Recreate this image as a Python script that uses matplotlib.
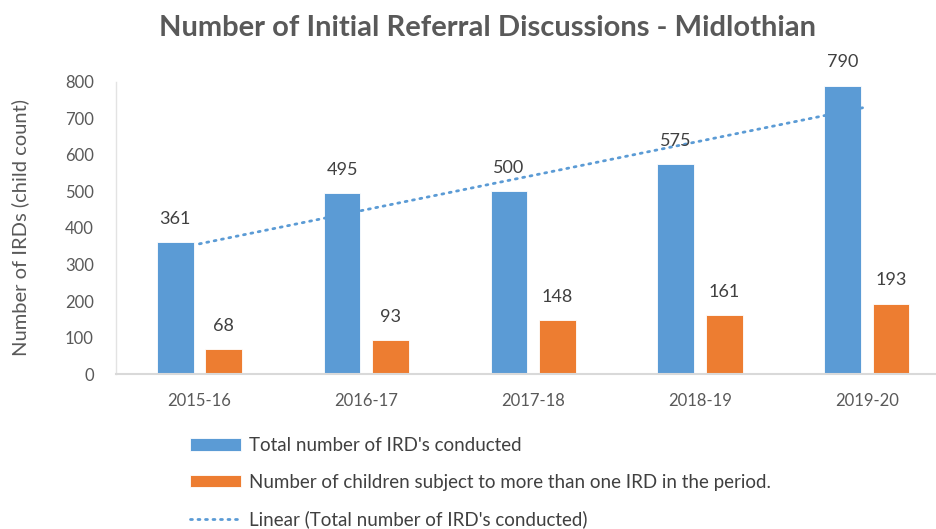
import matplotlib
matplotlib.use('Agg')
import matplotlib.pyplot as plt
import numpy as np

plt.rcParams['font.family'] = ['Lato', 'DejaVu Sans']

# data
years = ['2015-16', '2016-17', '2017-18', '2018-19', '2019-20']
total_irds = [361, 495, 500, 575, 790]
repeat_children = [68, 93, 148, 161, 193]

label_total = "Total number of IRD's conducted"
label_repeat = "Number of children subject to more than one IRD in the period."
label_trend = "Linear (Total number of IRD's conducted)"

blue = '#5B9BD5'
orange = '#ED7D31'
grey = '#595959'

fig = plt.figure(figsize=(9.37, 5.29), dpi=100)
ax = fig.add_axes([0.1238, 0.293, 0.8762, 0.552])

x = np.arange(len(years))
w = 0.22
off = 0.145
b1 = ax.bar(x - off, total_irds, w, color=blue, edgecolor='white', linewidth=0.6,
            label=label_total, zorder=2)
b2 = ax.bar(x + off, repeat_children, w, color=orange, edgecolor='white', linewidth=0.6,
            label=label_repeat, zorder=2)

# linear trendline fitted over the blue series
coef = np.polyfit(x, total_irds, 1)
trend_line, = ax.plot(x, np.polyval(coef, x), linestyle=(0, (0.7, 2.0)), color=blue,
                      linewidth=2.0, dash_capstyle='round', label=label_trend, zorder=3)

for bars, vals in ((b1, total_irds), (b2, repeat_children)):
    for rect, v in zip(bars, vals):
        ax.annotate(str(v), (rect.get_x() + rect.get_width() / 2, v),
                    xytext=(0, 11), textcoords='offset points',
                    ha='center', va='bottom', fontsize=13, color='#404040')

ax.set_xlim(-0.5, 4.42)
ax.set_ylim(0, 800)
ax.set_yticks(np.arange(0, 801, 100))
ax.set_xticks(x)
ax.set_xticklabels(years)
ax.tick_params(axis='both', length=0, labelsize=12, colors=grey)
ax.tick_params(axis='x', pad=14)
ax.tick_params(axis='y', pad=16)

for s in ('top', 'right'):
    ax.spines[s].set_visible(False)
ax.spines['left'].set_color('#e3e3e3')
ax.spines['left'].set_linewidth(1)
ax.spines['bottom'].set_color('#d9d9d9')
ax.spines['bottom'].set_linewidth(1.5)

ax.set_ylabel('Number of IRDs (child count)', fontsize=14.5, color=grey)
ax.yaxis.set_label_coords(-0.106, 0.5)

fig.text(0.52, 0.948, 'Number of Initial Referral Discussions - Midlothian',
         ha='center', va='center', fontsize=21, fontweight='bold', color=grey)

leg = fig.legend(handles=[b1, b2, trend_line], loc='upper left',
                 bbox_to_anchor=(0.195, 0.188), frameon=False, fontsize=13.5,
                 labelspacing=1.05, handlelength=2.7, handleheight=0.65,
                 handletextpad=0.45, borderaxespad=0)
for t in leg.get_texts():
    t.set_color('#404040')

fig.savefig('out.png', dpi=100)
